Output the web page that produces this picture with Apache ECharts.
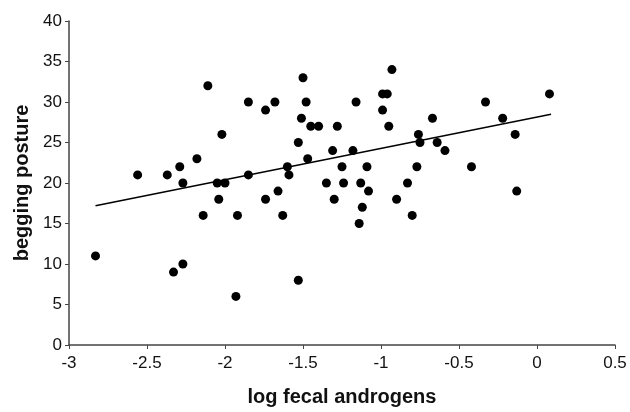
<!DOCTYPE html>
<html>
<head>
<meta charset="utf-8">
<script src="https://cdn.jsdelivr.net/npm/echarts@6/dist/echarts.min.js"></script>
<style>
  html, body { margin: 0; padding: 0; background: #fff; }
  #chart { width: 630px; height: 412px; }
</style>
</head>
<body>
<div id="chart"></div>
<script>
// log fecal androgens (x) vs begging posture (y)
const androgens = [
  -2.83, -2.56, -2.37, -2.33, -2.29, -2.27, -2.27, -2.18, -2.14, -2.11,
  -2.05, -2.04, -2.02, -2.0, -1.93, -1.92, -1.85, -1.85, -1.74, -1.74,
  -1.68, -1.66, -1.63, -1.60, -1.59, -1.53, -1.53, -1.51, -1.50, -1.48,
  -1.47, -1.45, -1.40, -1.35, -1.31, -1.30, -1.28, -1.25, -1.24, -1.18,
  -1.16, -1.14, -1.13, -1.12, -1.09, -1.08, -0.99, -0.96, -0.99, -0.95,
  -0.93, -0.90, -0.83, -0.80, -0.77, -0.76, -0.75, -0.67, -0.64, -0.59,
  -0.42, -0.33, -0.22, -0.14, -0.13, 0.08
]
const posture = [
  11, 21, 21, 9, 22, 20, 10, 23, 16, 32,
  20, 18, 26, 20, 6, 16, 30, 21, 29, 18,
  30, 19, 16, 22, 21, 25, 8, 28, 33, 30,
  23, 27, 27, 20, 24, 18, 27, 22, 20, 24,
  30, 15, 20, 17, 22, 19, 31, 31, 29, 27,
  34, 18, 20, 16, 22, 26, 25, 28, 25, 24,
  22, 30, 28, 26, 19, 31
]

// fitted regression line endpoints
const trendX = [-2.83, 0.09]
const trendY = [17.2, 28.5]

const chart = echarts.init(document.getElementById('chart'))

const axisColor = '#444'
const font = 'Liberation Sans, Arial, sans-serif'

chart.setOption({
  animation: false,
  grid: { left: 69, right: 15, top: 21, bottom: 61 },
  xAxis: {
    type: 'value',
    min: -3,
    max: 0.5,
    interval: 0.5,
    name: 'log fecal androgens',
    nameLocation: 'middle',
    nameGap: 42,
    nameTextStyle: { fontFamily: font, fontSize: 20, fontWeight: 'bold', color: '#111' },
    axisLine: { onZero: false, lineStyle: { color: axisColor, width: 1.5 } },
    axisTick: { length: 4, lineStyle: { color: axisColor } },
    axisLabel: { fontFamily: font, fontSize: 17, color: '#111', margin: 10 },
    splitLine: { show: false }
  },
  yAxis: {
    type: 'value',
    min: 0,
    max: 40,
    interval: 5,
    name: 'begging posture',
    nameLocation: 'middle',
    nameGap: 36,
    nameTextStyle: { fontFamily: font, fontSize: 20, fontWeight: 'bold', color: '#111' },
    axisLine: { show: true, onZero: false, lineStyle: { color: axisColor, width: 1.5 } },
    axisTick: { show: true, length: 4, lineStyle: { color: axisColor } },
    axisLabel: { fontFamily: font, fontSize: 17, color: '#111', margin: 7 },
    splitLine: { show: false }
  },
  series: [
    {
      type: 'scatter',
      symbolSize: 9,
      itemStyle: { color: '#000', opacity: 1 },
      data: androgens.map((x, i) => [x, posture[i]])
    },
    {
      type: 'line',
      symbol: 'none',
      lineStyle: { color: '#000', width: 1.5 },
      data: trendX.map((x, i) => [x, trendY[i]])
    }
  ]
})
</script>
</body>
</html>
